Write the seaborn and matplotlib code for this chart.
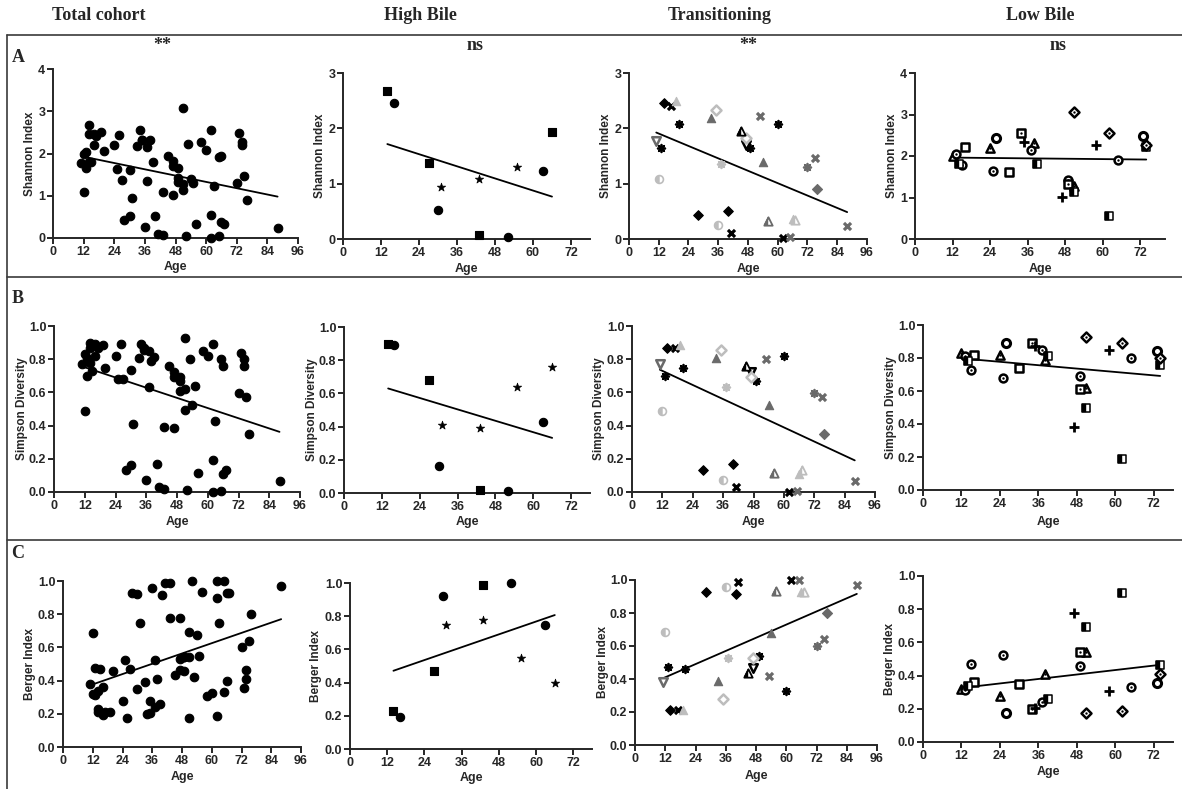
import numpy as np
import pandas as pd
import matplotlib
matplotlib.use("Agg")
import matplotlib.pyplot as plt
from matplotlib.markers import MarkerStyle
from matplotlib.lines import Line2D
import seaborn as sns

# ---------------- data ----------------
columns = ["Total cohort", "High Bile", "Transitioning", "Low Bile"]
row_letters = ["A", "B", "C"]
row_labels = ["Shannon Index", "Simpson Diversity", "Berger Index"]
significance = ["**", "ns", "**", "ns"]

# High Bile (3 subjects)
high_age = [14, 16, 27, 30, 31, 43, 43, 52, 55, 63, 66]
high_subject = ["hb_sq", "hb_ci", "hb_sq", "hb_ci", "hb_st", "hb_st", "hb_sq", "hb_ci", "hb_st", "hb_ci", "hb_st"]
high_subject_shannon = ["hb_sq", "hb_ci", "hb_sq", "hb_ci", "hb_st", "hb_st", "hb_sq", "hb_ci", "hb_st", "hb_ci", "hb_sq"]
high_shannon = [2.68, 2.46, 1.38, 0.52, 0.94, 1.09, 0.08, 0.04, 1.30, 1.22, 1.94]
high_simpson = [0.90, 0.89, 0.68, 0.16, 0.41, 0.39, 0.02, 0.01, 0.64, 0.43, 0.76]
high_berger = [0.23, 0.19, 0.47, 0.92, 0.75, 0.78, 0.99, 1.00, 0.55, 0.75, 0.40]

# Transitioning
trans_age = [14, 28, 40, 17, 41, 62, 19, 66, 67, 13, 20, 49, 60, 11, 47,
             12, 36, 33, 54, 35, 47, 37, 45, 56, 53, 65, 75, 88, 72, 76]
trans_subject = ["diamond_black", "diamond_black", "diamond_black",
                 "x_black", "x_black", "x_black",
                 "tri_light", "tri_light", "halftri_light",
                 "ast_black", "ast_black", "ast_black", "ast_black",
                 "downtri_gray", "downtri_black",
                 "halfcirc_light", "halfcirc_light",
                 "tri_gray", "tri_gray",
                 "diamond_open", "diamond_open",
                 "ast_light", "halftri_black", "halftri_gray",
                 "x_gray", "x_gray", "x_gray", "x_gray",
                 "ast_gray", "diamond_gray"]
trans_shannon = [2.45, 0.43, 0.51, 2.41, 0.10, 0.01, 2.50, 0.37, 0.34, 1.65, 2.07, 1.65, 2.08, 1.77, 1.70,
                 1.08, 0.25, 2.18, 1.40, 2.33, 1.83, 1.35, 1.95, 0.33, 2.22, 0.04, 1.47, 0.23, 1.30, 0.90]
trans_simpson = [0.87, 0.13, 0.17, 0.865, 0.03, 0.00, 0.885, 0.11, 0.13, 0.70, 0.745, 0.67, 0.82, 0.77, 0.72,
                 0.49, 0.075, 0.81, 0.525, 0.855, 0.69, 0.635, 0.76, 0.115, 0.80, 0.005, 0.57, 0.066, 0.595, 0.35]
trans_berger = [0.21, 0.93, 0.915, 0.21, 0.985, 1.00, 0.21, 0.93, 0.93, 0.475, 0.46, 0.54, 0.327, 0.38, 0.465,
                0.687, 0.96, 0.39, 0.677, 0.28, 0.53, 0.525, 0.435, 0.935, 0.42, 1.00, 0.64, 0.97, 0.60, 0.80]

# Low Bile
low_age = [12, 24, 38, 51, 13, 15, 25, 37, 49, 65, 26, 73, 16, 30, 34, 49, 35, 47, 58,
           14, 39, 51, 62, 74, 51, 62, 74]
low_subject = ["tri_dot"] * 4 + ["circ_dot"] * 6 + ["circ"] * 2 + ["sq"] * 2 + ["sq_dot"] * 2 + \
              ["plus"] * 3 + ["halfsq"] * 5 + ["diamond_dot"] * 3
low_shannon = [2.00, 2.19, 2.31, 1.28, 2.04, 1.79, 1.64, 2.15, 1.41, 1.91, 2.43, 2.49, 2.21, 1.62, 2.55, 1.33,
               2.33, 1.02, 2.27, 1.81, 1.80, 1.13, 0.55, 2.21, 3.07, 2.55, 2.27]
low_simpson = [0.83, 0.82, 0.79, 0.62, 0.81, 0.727, 0.68, 0.85, 0.69, 0.80, 0.89, 0.84, 0.82, 0.737, 0.89, 0.61,
               0.87, 0.384, 0.85, 0.78, 0.815, 0.495, 0.19, 0.76, 0.925, 0.89, 0.80]
low_berger = [0.32, 0.28, 0.41, 0.54, 0.316, 0.468, 0.527, 0.24, 0.46, 0.332, 0.177, 0.356, 0.364, 0.348, 0.198,
              0.545, 0.205, 0.78, 0.31, 0.34, 0.26, 0.69, 0.895, 0.463, 0.175, 0.185, 0.408]

# Total cohort = all subjects pooled
total_age = high_age + trans_age + low_age
total_shannon = high_shannon + trans_shannon + low_shannon
total_simpson = high_simpson + trans_simpson + low_simpson
total_berger = high_berger + trans_berger + low_berger
total_subject = ["all"] * len(total_age)

# ---------------- styles ----------------
BLACK, GRAY, LIGHT = "#000000", "#6a6a6a", "#bdbdbd"
AST = (8, 2, 0)
STYLES = {
    # marker, colour, fill, size, linewidth, centre-dot
    "all": ("o", BLACK, "full", 38, 0.8, False),
    "hb_sq": ("s", BLACK, "full", 34, 0.8, False),
    "hb_ci": ("o", BLACK, "full", 36, 0.8, False),
    "hb_st": ("*", BLACK, "full", 40, 0.5, False),
    "diamond_black": ("D", BLACK, "full", 24, 0.8, False),
    "x_black": ("x", BLACK, "line", 26, 2.3, False),
    "tri_light": ("^", LIGHT, "full", 36, 0.8, False),
    "halftri_light": ("^", LIGHT, "half", 36, 1.3, False),
    "ast_black": (AST, BLACK, "line", 30, 1.3, False),
    "downtri_gray": ("v", GRAY, "open", 38, 1.8, False),
    "downtri_black": ("v", BLACK, "open", 38, 1.8, False),
    "halfcirc_light": ("o", LIGHT, "half", 32, 1.2, False),
    "tri_gray": ("^", GRAY, "full", 36, 0.8, False),
    "diamond_open": ("D", LIGHT, "open", 26, 1.8, False),
    "ast_light": (AST, LIGHT, "line", 30, 1.3, False),
    "halftri_black": ("^", BLACK, "half", 36, 1.3, False),
    "halftri_gray": ("^", GRAY, "half", 36, 1.3, False),
    "x_gray": ("x", GRAY, "line", 26, 2.3, False),
    "ast_gray": (AST, GRAY, "line", 30, 1.3, False),
    "diamond_gray": ("D", GRAY, "full", 26, 0.8, False),
    "tri_dot": ("^", BLACK, "open", 36, 1.7, True),
    "circ_dot": ("o", BLACK, "open", 32, 1.8, True),
    "circ": ("o", BLACK, "open", 34, 2.2, False),
    "sq": ("s", BLACK, "open", 34, 1.8, False),
    "sq_dot": ("s", BLACK, "open", 34, 1.8, True),
    "plus": ("+", BLACK, "line", 44, 2.0, False),
    "halfsq": ("s", BLACK, "half", 32, 1.1, False),
    "diamond_dot": ("D", BLACK, "open", 26, 1.8, True),
}

# ---------------- layout (pixels) ----------------
W, H = 1182, 789
# (x0, x1, ytop, ybottom, xmax, ylabel centre x, xlabel centre y)
LAYOUT = [
    [(53, 298, 69, 238, 96, 30, 267), (343, 590, 73, 239, 78, 320, 269),
     (629, 867, 73, 239, 96, 606, 269), (915, 1165, 73, 239, 80, 892, 269)],
    [(54, 300, 326, 492, 96, 22, 522), (344, 590, 327, 493, 78, 312, 522),
     (632, 875, 326, 492, 96, 599, 522), (923, 1173, 325, 490, 78, 891, 522)],
    [(63, 301, 581, 747, 96, 30, 777), (350, 592, 583, 749, 78, 316, 778),
     (635, 877, 580, 745, 96, 603, 776), (923, 1173, 576, 742, 78, 890, 772)],
]
YMAX = [[4, 3, 3, 4], [1, 1, 1, 1], [1, 1, 1, 1]]

sns.set_style("ticks")
plt.rcParams["font.family"] = ["Liberation Sans", "DejaVu Sans"]
plt.rcParams["font.weight"] = "bold"
plt.rcParams["axes.labelweight"] = "bold"

fig = plt.figure(figsize=(W / 100, H / 100), dpi=100)
fig.patch.set_facecolor("white")


def draw_group(ax, ages, vals, subjects):
    df = pd.DataFrame({"age": ages, "val": vals, "subj": subjects})
    for subj, g in df.groupby("subj", sort=False):
        m, col, fill, s, lw, dot = STYLES[subj]
        common = dict(x=g["age"].values, y=g["val"].values, ax=ax, s=s,
                      clip_on=False, zorder=3, legend=False)
        if fill == "full":
            sns.scatterplot(marker=m, color=col, edgecolor=col, linewidth=lw, **common)
        elif fill == "line":
            sns.scatterplot(marker=m, color=col, linewidth=lw, **common)
        else:
            sns.scatterplot(marker=m, color="white", edgecolor=col, linewidth=lw, **common)
            if fill == "half":
                sns.scatterplot(marker=MarkerStyle(m, fillstyle="left"), color=col,
                                edgecolor=col, linewidth=0.3, **common)
        if dot:
            c2 = dict(common)
            c2["s"] = 3
            sns.scatterplot(marker="o", color=col, edgecolor=col, linewidth=0, **c2)


group_data = [
    (total_age, [total_subject] * 3, [total_shannon, total_simpson, total_berger]),
    (high_age, [high_subject_shannon, high_subject, high_subject], [high_shannon, high_simpson, high_berger]),
    (trans_age, [trans_subject] * 3, [trans_shannon, trans_simpson, trans_berger]),
    (low_age, [low_subject] * 3, [low_shannon, low_simpson, low_berger]),
]

for r in range(3):
    for c in range(4):
        x0, x1, yt, yb, xmax, ylx, xly = LAYOUT[r][c]
        ymax = YMAX[r][c]
        ax = fig.add_axes([x0 / W, 1 - yb / H, (x1 - x0) / W, (yb - yt) / H])
        ax.set_facecolor("none")
        ages, subjs, vals = group_data[c]
        sns.regplot(x=np.array(ages, float), y=np.array(vals[r], float), scatter=False, ci=None,
                    truncate=True, color="black", line_kws=dict(linewidth=1.3), ax=ax)
        draw_group(ax, ages, vals[r], subjs[r])
        ax.set_xlim(0, xmax)
        ax.set_ylim(0, ymax)
        ax.set_xticks(np.arange(0, xmax + 1, 12))
        if ymax == 1:
            yt_vals = np.arange(0, 1.01, 0.2)
            ax.set_yticks(yt_vals)
            ax.set_yticklabels([f"{v:.1f}" for v in yt_vals])
        else:
            ax.set_yticks(np.arange(0, ymax + 1, 1))
        sns.despine(ax=ax)
        for sp in ("left", "bottom"):
            ax.spines[sp].set_linewidth(1.4)
        ax.tick_params(direction="out", length=4, width=1.4, labelsize=9, pad=1.5)
        ax.set_xlabel("Age", fontsize=9, fontweight="bold")
        ax.set_ylabel(row_labels[r], fontsize=8.5, fontweight="bold")
        wpx, hpx = x1 - x0, yb - yt
        ax.yaxis.set_label_coords((ylx + 6 - x0) / wpx, 0.5)
        ax.xaxis.set_label_coords(0.5, (yb - (xly - 6)) / hpx)

# headers and annotations
SERIF = ["Liberation Serif", "DejaVu Serif"]
header_x = [99, 420, 720, 1040]
for name, hx in zip(columns, header_x):
    fig.text(hx / W, 1 - 15 / H, name, ha="center", va="center", fontsize=13,
             fontweight="bold", family=SERIF)
sig_x = [162, 475, 748, 1058]
for s_txt, sx in zip(significance, sig_x):
    fig.text(sx / W, 1 - 46 / H, s_txt, ha="center", va="center", fontsize=13,
             fontweight="bold", family=SERIF)
for letter, ly in zip(row_letters, [57, 298, 553]):
    fig.text(18 / W, 1 - ly / H, letter, ha="center", va="center", fontsize=13,
             fontweight="bold", family=SERIF)

# frame lines
def hline(y, xa=7, xb=1182):
    fig.add_artist(Line2D([xa / W, xb / W], [1 - y / H, 1 - y / H], color="#3a3a3a", lw=1.2,
                          transform=fig.transFigure))

hline(35)
hline(277)
hline(540)
fig.add_artist(Line2D([7 / W, 7 / W], [1 - 35 / H, 0], color="#3a3a3a", lw=1.2, transform=fig.transFigure))

fig.savefig("out.png", dpi=100, facecolor="white")
